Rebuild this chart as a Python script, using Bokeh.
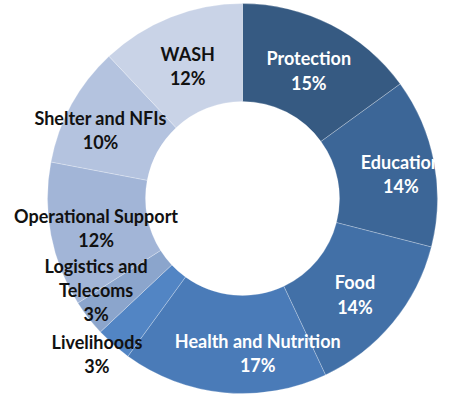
import math
from bokeh.plotting import figure
from bokeh.models import Range1d, ColumnDataSource
from bokeh.core.properties import value
from bokeh.embed import file_html
from bokeh.resources import INLINE

categories = ["Protection", "Education", "Food", "Health and Nutrition", "Livelihoods",
              "Logistics and Telecoms", "Operational Support", "Shelter and NFIs", "WASH"]
shares = [15, 14, 14, 17, 3, 3, 12, 10, 12]
colors = ["#365a82", "#3c6697", "#4270a7", "#4a7bb8", "#5285c4",
          "#8ba5cc", "#a2b5d7", "#b4c3df", "#c9d3e7"]
label_colors = ["white", "white", "white", "white", "#111111",
                "#111111", "#111111", "#111111", "#111111"]
wrap = {"Logistics and Telecoms": "Logistics and\nTelecoms"}
# label nudges (screen px, x right / y down) from the mid-ring position
nudge_x = [0, 15, 0, 29, -49, -31, -3, -14, -1]
nudge_y = [2, 3, 3, 9, 46, 2, 2, 2, 3]

W, H = 440, 394
cx, cy = 242, -198          # centre in plot units (1 unit = 1 px)
r_out, r_in = 195, 97

total = sum(shares)
starts, ends, lx, ly, labels = [], [], [], [], []
cum = 0
for i, (c, v) in enumerate(zip(categories, shares)):
    a0 = cum / total
    cum += v
    a1 = cum / total
    starts.append(math.pi / 2 - 2 * math.pi * a1)
    ends.append(math.pi / 2 - 2 * math.pi * a0)
    mid = 2 * math.pi * (a0 + a1) / 2
    rm = (r_out + r_in) / 2
    lx.append(cx + rm * math.sin(mid) + nudge_x[i])
    ly.append(cy + rm * math.cos(mid) - nudge_y[i])
    labels.append(wrap.get(c, c) + "\n" + f"{v}%")

src = ColumnDataSource(dict(start=starts, end=ends, color=colors,
                            lx=lx, ly=ly, label=labels, tcolor=label_colors))

p = figure(width=W, height=H, output_backend="svg", toolbar_location=None,
           x_range=Range1d(0, W), y_range=Range1d(-H, 0), min_border=0,
           background_fill_color="white", border_fill_color="white")
p.axis.visible = False
p.grid.visible = False
p.outline_line_color = None

p.annular_wedge(x=cx, y=cy, inner_radius=r_in, outer_radius=r_out,
                start_angle="start", end_angle="end", direction="anticlock",
                fill_color="color", line_color="white", line_alpha=0.25, line_width=1,
                source=src)

p.text(x="lx", y="ly", text="label", text_color="tcolor", source=src,
       text_font=value("Lato"), text_font_style="bold", text_font_size="18px",
       text_align="center", text_baseline="middle", text_line_height=1.1)

open("out.html", "w").write(file_html(p, INLINE))
